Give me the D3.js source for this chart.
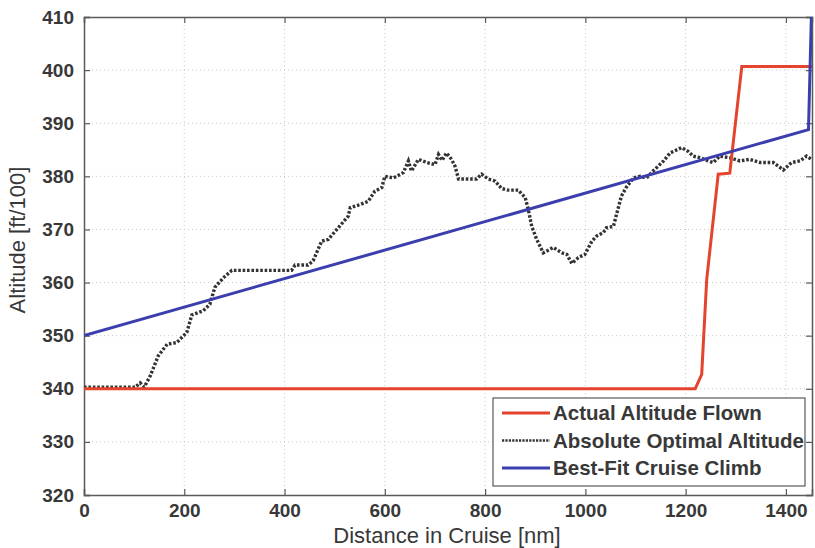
<!DOCTYPE html>
<html lang="en">
  <head>
    <meta charset="UTF-8">
    <title>Cruise Altitude</title>
    <script src="https://d3js.org/d3.v7.min.js"></script>
    <style>
      * {
        margin: 0;
        padding: 0;
      }
      body {
        background: #fff;
      }
      body > svg {
        display: block;
      }
      text {
        font-family: "Liberation Sans", Arial, sans-serif;
        fill: #383838;
      }
    </style>
  </head>
  <body>
    <script>
      // tick labels
      var distanceTicks = [0, 200, 400, 600, 800, 1000, 1200, 1400];
      var altitudeTicks = [320, 330, 340, 350, 360, 370, 380, 390, 400, 410];

      // Actual Altitude Flown
      var actualDist = [0, 1219, 1232, 1242, 1265, 1288, 1312, 1452];
      var actualAlt = [340, 340, 342.7, 360.6, 380.4, 380.6, 400.7, 400.7];

      // Best-Fit Cruise Climb
      var fitDist = [0, 1445, 1451];
      var fitAlt = [350, 388.8, 411];

      // Absolute Optimal Altitude
      var optDist = [0, 102, 112, 120, 132, 148, 166, 185, 205, 215, 238, 251, 261, 278, 295,
        414, 421, 447, 457, 474, 487, 507, 527, 531, 551, 567, 580, 594, 600, 617, 637, 647,
        653, 667, 684, 700, 707, 714, 723, 733, 740, 747, 783, 793, 806, 820, 833, 846, 866,
        880, 886, 893, 903, 916, 936, 953, 963, 973, 986, 999, 1013, 1023, 1036, 1042, 1056,
        1062, 1072, 1082, 1096, 1109, 1122, 1135, 1156, 1169, 1192, 1205, 1215, 1229, 1245,
        1255, 1268, 1288, 1308, 1328, 1348, 1375, 1395, 1411, 1428, 1441, 1451];
      var optAlt = [340.3, 340.3, 341.1, 340.3, 342.4, 346.2, 348.4, 348.7, 350.6, 353.9, 354.7,
        355.9, 359.1, 360.9, 362.3, 362.3, 363.3, 363.3, 364.1, 367.8, 368.1, 370.3, 372.5,
        374.1, 374.7, 375.3, 377.2, 377.9, 380, 379.7, 380.7, 382.9, 381, 383.2, 382.6, 382.2,
        384.1, 383, 384.4, 383.2, 381.9, 379.5, 379.5, 380.4, 379.5, 379.1, 377.7, 377.4, 377.4,
        376, 373.8, 370.6, 368.1, 365.6, 366.6, 365.6, 365.3, 363.6, 364.7, 365.3, 367.8, 368.8,
        369.4, 370.3, 370.6, 372.8, 376.3, 378, 379.7, 380, 379.7, 381, 382.9, 384.4, 385.4,
        384.7, 383.8, 383.5, 382.9, 382.6, 383.8, 383.5, 382.9, 383.2, 382.6, 382.6, 381.2,
        382.6, 382.9, 383.8, 383.2];

      var legendNames = ["Actual Altitude Flown", "Absolute Optimal Altitude", "Best-Fit Cruise Climb"];

      var width = 815;
      var height = 548;
      var margin = { top: 17, right: 3, bottom: 53, left: 84 };
      var iw = width - margin.left - margin.right;
      var ih = height - margin.top - margin.bottom;

      var svg = d3.select("body").append("svg")
        .attr("width", width)
        .attr("height", height);

      var g = svg.append("g")
        .attr("transform", "translate(" + margin.left + "," + margin.top + ")");

      var x = d3.scaleLinear().domain([0, 1452]).range([0, iw]);
      var y = d3.scaleLinear().domain([320, 410]).range([ih, 0]);

      svg.append("defs").append("clipPath").attr("id", "clip")
        .append("rect").attr("width", iw).attr("height", ih);

      // grid
      g.append("g").selectAll("line").data(distanceTicks.slice(1)).enter().append("line")
        .attr("x1", function (d) { return x(d); }).attr("x2", function (d) { return x(d); })
        .attr("y1", 0).attr("y2", ih)
        .attr("stroke", "#c8c8cc").attr("stroke-dasharray", "1,3");
      g.append("g").selectAll("line").data(altitudeTicks.slice(1, -1)).enter().append("line")
        .attr("y1", function (d) { return y(d); }).attr("y2", function (d) { return y(d); })
        .attr("x1", 0).attr("x2", iw)
        .attr("stroke", "#c8c8cc").attr("stroke-dasharray", "1,3");

      // axes (ticks inward, box style)
      var xAxis = g.append("g").attr("transform", "translate(0," + ih + ")")
        .call(d3.axisBottom(x).tickValues(distanceTicks).tickFormat(d3.format("d"))
          .tickSize(-6).tickPadding(12));
      var xTop = g.append("g")
        .call(d3.axisTop(x).tickValues(distanceTicks).tickSize(-6).tickFormat(""));
      var yAxis = g.append("g")
        .call(d3.axisLeft(y).tickValues(altitudeTicks).tickSize(-6).tickPadding(10));
      var yRight = g.append("g").attr("transform", "translate(" + iw + ",0)")
        .call(d3.axisRight(y).tickValues(altitudeTicks).tickSize(-6).tickFormat(""));

      [xAxis, xTop, yAxis, yRight].forEach(function (a) {
        a.select(".domain").attr("stroke", "#5a5a5a").attr("stroke-width", 1.5);
        a.selectAll(".tick line").attr("stroke", "#5a5a5a").attr("stroke-width", 1.2);
        a.selectAll(".tick text")
          .attr("font-family", "'Liberation Sans', Arial, sans-serif")
          .attr("font-size", 19).attr("font-weight", "bold").attr("fill", "#3a3a3a");
      });
      xAxis.selectAll(".tick text").attr("dy", "0.55em");

      function pts(xs, ys) {
        return xs.map(function (d, i) { return [d, ys[i]]; });
      }
      var line = d3.line()
        .x(function (d) { return x(d[0]); })
        .y(function (d) { return y(d[1]); });

      var plot = g.append("g").attr("clip-path", "url(#clip)");

      plot.append("path").datum(pts(optDist, optAlt))
        .attr("d", line).attr("fill", "none")
        .attr("stroke", "#333").attr("stroke-width", 3.4)
        .attr("stroke-dasharray", "2.6,1.8");

      plot.append("path").datum(pts(actualDist, actualAlt))
        .attr("d", line).attr("fill", "none")
        .attr("stroke", "#e4442e").attr("stroke-width", 3);

      plot.append("path").datum(pts(fitDist, fitAlt))
        .attr("d", line).attr("fill", "none")
        .attr("stroke", "#3b3fae").attr("stroke-width", 3);

      // axis labels
      svg.append("text")
        .attr("x", 447).attr("y", 543)
        .attr("text-anchor", "middle").attr("font-size", 22)
        .text("Distance in Cruise [nm]");
      svg.append("text")
        .attr("transform", "translate(25,240) rotate(-90)")
        .attr("text-anchor", "middle").attr("font-size", 22)
        .text("Altitude [ft/100]");

      // legend
      var legend = svg.append("g").attr("transform", "translate(493,398)");
      legend.append("rect").attr("width", 312).attr("height", 88)
        .attr("fill", "#fff").attr("stroke", "#5a5a5a").attr("stroke-width", 1.2);
      var styles = [
        { c: "#e4442e", dash: null },
        { c: "#333", dash: "2.2,1.2" },
        { c: "#3b3fae", dash: null }
      ];
      var rows = legend.selectAll(".row").data(legendNames).enter().append("g")
        .attr("class", "row")
        .attr("transform", function (d, i) { return "translate(0," + (15 + i * 27.5) + ")"; });
      rows.append("line").attr("x1", 9).attr("x2", 57).attr("y1", 0).attr("y2", 0)
        .attr("stroke", function (d, i) { return styles[i].c; })
        .attr("stroke-width", function (d, i) { return i === 1 ? 2.5 : 3; })
        .attr("stroke-dasharray", function (d, i) { return styles[i].dash; });
      rows.append("text").attr("x", 60).attr("dy", "0.36em")
        .attr("font-size", 20.5).attr("font-weight", "bold")
        .text(function (d) { return d; });
    </script>
  </body>
</html>
